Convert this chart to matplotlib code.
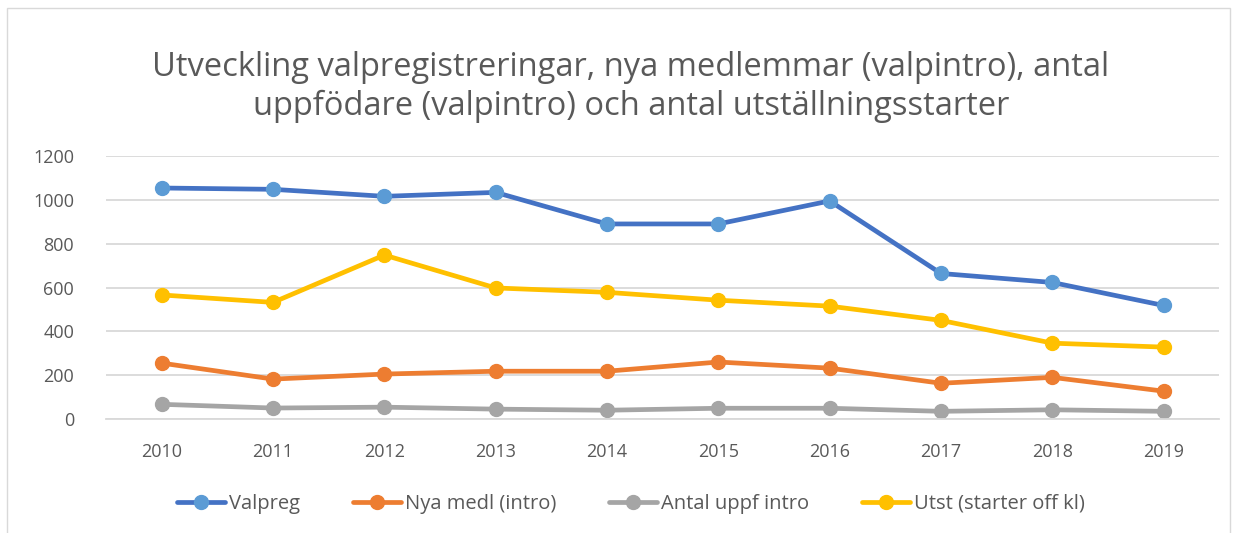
import matplotlib
matplotlib.use("Agg")
import matplotlib.pyplot as plt
from matplotlib.patches import Rectangle

years = ["2010", "2011", "2012", "2013", "2014", "2015", "2016", "2017", "2018", "2019"]
valpreg = [1054, 1048, 1016, 1034, 890, 890, 995, 664, 623, 518]
nya_medl = [255, 182, 205, 218, 218, 260, 232, 163, 190, 127]
antal_uppf = [67, 50, 54, 45, 40, 49, 49, 35, 42, 35]
utst = [566, 532, 748, 598, 578, 542, 515, 450, 346, 328]

series = [
    ("Valpreg", valpreg, "#4472C4", "#5B9BD5"),
    ("Nya medl (intro)", nya_medl, "#ED7D31", "#ED7D31"),
    ("Antal uppf intro", antal_uppf, "#A5A5A5", "#A5A5A5"),
    ("Utst (starter off kl)", utst, "#FFC000", "#FFC000"),
]

plt.rcParams["font.family"] = ["Open Sans", "DejaVu Sans"]
TXT = "#595959"

fig = plt.figure(figsize=(12.37, 5.33), dpi=100)
ax = fig.add_axes([0.0857, 0.2139, 0.9, 0.4934])

x = list(range(len(years)))
for name, vals, lc, mc in series:
    ax.plot(x, vals, color=lc, lw=3.4, marker="o", markersize=10,
            markerfacecolor=mc, markeredgecolor=mc, label=name, solid_capstyle="round")

ax.set_xlim(-0.5, len(years) - 0.5)
ax.set_ylim(0, 1200)
ax.set_yticks(range(0, 1201, 200))
ax.set_xticks(x)
ax.set_xticklabels(years)
ax.grid(axis="y", color="#D9D9D9", lw=1.3)
ax.set_axisbelow(True)
for s in ["top", "right", "left"]:
    ax.spines[s].set_visible(False)
ax.spines["bottom"].set_color("#D9D9D9")
ax.spines["bottom"].set_linewidth(1.3)
ax.tick_params(axis="both", length=0, labelsize=13, colors=TXT)
ax.tick_params(axis="y", pad=23)
ax.tick_params(axis="x", pad=17)

fig.text(0.51, 0.837, "Utveckling valpregistreringar, nya medlemmar (valpintro), antal\n"
         "uppfödare (valpintro) och antal utställningsstarter",
         ha="center", va="center", fontsize=23.5, color=TXT, linespacing=1.25)

leg = fig.legend(loc="center", bbox_to_anchor=(0.51, 0.055), ncol=4, frameon=False,
                 fontsize=14.5, handlelength=2.4, columnspacing=2.6, handletextpad=0.2)
for t in leg.get_texts():
    t.set_color(TXT)

fig.patches.append(Rectangle((0.006, -0.01), 0.988, 0.995, transform=fig.transFigure,
                             fill=False, edgecolor="#D9D9D9", lw=1))

fig.savefig("out.png", dpi=100)
